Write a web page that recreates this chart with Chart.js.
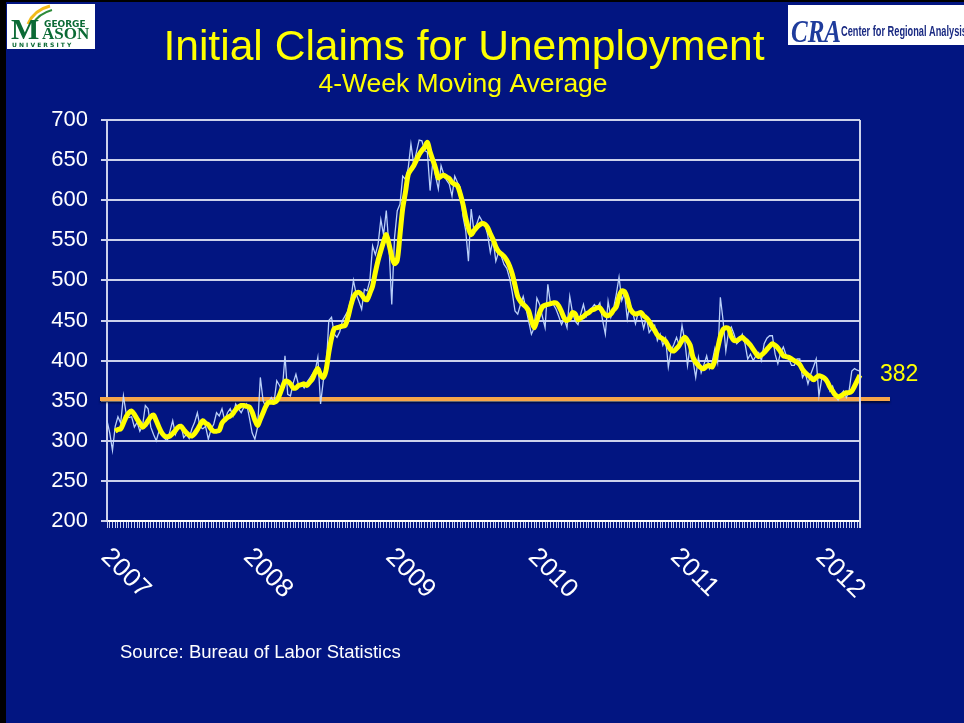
<!DOCTYPE html>
<html>
<head>
<meta charset="utf-8">
<title>Initial Claims for Unemployment</title>
<script src="https://cdn.jsdelivr.net/npm/chart.js@4.4.0/dist/chart.umd.min.js"></script>
<style>
    body { margin: 0; background: #021581; }
    #wrap { width: 964px; height: 723px; }
</style>
</head>
<body>
<div id="wrap"><canvas id="claimsChart" width="964" height="723"></canvas></div>
<script>
// weekly initial claims (thousands); first week ends Jan 6 2007
var weekly2007 = [325,310,288,318,330,322,356,334,329,330,317,323,312,319,344,340,317,308,300,312,308,303,300,312,325,308,317,320,304,308,303,315,323,335,317,315,318,302,314,321,335,331,340,325,335,340,331,346,340,335,342,346];
var weekly2008 = [329,310,302,317,379,350,342,348,354,348,375,369,362,406,358,356,372,383,369,371,366,373,378,383,387,404,346,375,387,450,454,433,429,436,450,456,462,475,500,483,474,464,489,487,500,543,532,545,576,557,587,541];
var weekly2009 = [470,553,587,595,630,626,640,670,645,660,675,674,662,660,612,649,630,614,643,632,625,620,605,630,622,616,580,562,524,589,562,570,580,574,570,557,535,551,524,535,530,520,515,503,485,462,458,470,480,465,449,433];
var weekly2010 = [441,478,470,455,441,495,470,470,464,455,445,452,441,480,460,449,445,458,470,455,462,465,470,466,472,450,433,474,454,465,483,504,475,485,452,471,460,446,460,455,440,454,435,440,444,425,433,419,428,392,412,420];
var weekly2011 = [429,419,444,425,394,419,400,379,404,385,395,406,390,398,415,398,479,450,412,437,442,433,421,425,433,421,402,408,400,406,410,400,421,428,431,431,408,396,410,417,407,402,394,394,402,402,379,385,371,383,392,402];
var weekly2012 = [356,377,380,375,362,368,356,351,358,362,354,362,387,390,388,387];

// 4-week moving average (the yellow line), also
var avg2007 = [null,null,null,312,314,315,322,330,335,337,333,327,322,317,320,325,330,332,325,317,310,306,305,306,309,313,317,318,314,310,307,306,309,314,320,325,322,320,315,312,312,313,322,326,329,331,334,339,342,344,344,343];
var avg2008 = [342,336,326,319,327,335,343,348,348,348,350,357,366,374,374,371,366,366,369,370,371,369,373,377,385,390,382,379,388,410,428,440,441,442,443,444,454,468,479,484,485,482,477,476,484,493,510,525,537,548,557,545];
var avg2009 = [530,521,525,557,590,610,632,638,643,650,657,662,666,672,660,650,640,628,630,631,629,627,622,620,618,608,595,578,565,557,562,566,569,571,570,566,558,551,542,536,533,530,525,518,508,494,480,474,470,467,462,450];
var avg2010 = [441,450,460,467,469,470,471,472,472,468,461,453,450,453,460,458,451,453,455,458,460,463,464,466,466,461,457,456,458,463,467,480,487,486,478,465,460,458,459,460,456,453,449,443,438,432,429,427,424,418,413,412];
var avg2011 = [415,419,425,429,425,419,404,398,394,391,390,393,394,392,400,415,430,439,441,440,430,425,425,427,429,426,423,419,414,409,405,407,410,414,418,421,419,416,411,406,405,404,402,400,398,395,389,385,382,379,376,379];
var avg2012 = [381,380,378,374,367,362,357,355,356,358,360,360,362,368,375,382];

var years = ['2007', '2008', '2009', '2010', '2011', '2012'];
var firstWeek = '2007-01-06';
var baseline = 352;   // orange reference line

var weeklyClaims = [].concat(weekly2007, weekly2008, weekly2009, weekly2010, weekly2011, weekly2012);
var movingAvg = [].concat(avg2007, avg2008, avg2009, avg2010, avg2011, avg2012);

var weeks = [];
var d = new Date(firstWeek + 'T00:00:00Z');
for (var i = 0; i < weeklyClaims.length; i++) {
    weeks.push(d.toISOString().slice(0, 10));
    d.setUTCDate(d.getUTCDate() + 7);
}

var NAVY = '#021581';
var GRID = 'rgba(215,219,240,0.95)';

var slideDecor = {
    id: 'slideDecor',
    beforeDraw: function (chart) {
        var ctx = chart.ctx;
        ctx.save();
        ctx.fillStyle = NAVY;
        ctx.fillRect(0, 0, chart.width, chart.height);
        ctx.restore();
    },
    beforeDatasetsDraw: function (chart) {
        var ctx = chart.ctx;
        var y = chart.scales.y.getPixelForValue(baseline);
        ctx.save();
        ctx.shadowColor = 'rgba(0,0,0,0.55)';
        ctx.shadowOffsetY = 2;
        ctx.shadowBlur = 2;
        ctx.strokeStyle = '#f6a64a';
        ctx.lineWidth = 4;
        ctx.beginPath();
        ctx.moveTo(chart.chartArea.left - 7, y);
        ctx.lineTo(chart.chartArea.right + 30, y);
        ctx.stroke();
        ctx.restore();
    },
    afterDraw: function (chart) {
        var ctx = chart.ctx;
        var area = chart.chartArea;
        var xs = chart.scales.x;
        var ys = chart.scales.y;
        ctx.save();

        // right edge of plot
        ctx.strokeStyle = GRID;
        ctx.lineWidth = 2;
        ctx.beginPath();
        ctx.moveTo(area.right, area.top);
        ctx.lineTo(area.right, area.bottom + 7);
        ctx.stroke();

        // titles
        ctx.fillStyle = '#ffff00';
        ctx.textAlign = 'center';
        ctx.textBaseline = 'alphabetic';
        ctx.font = '42.6px "Liberation Sans", Arial, sans-serif';
        ctx.fillText('Initial Claims for Unemployment', 464, 60);
        ctx.font = '26.5px "Liberation Sans", Arial, sans-serif';
        ctx.fillText('4-Week Moving Average', 463, 92);

        // last value label
        var last = movingAvg[movingAvg.length - 1];
        ctx.textAlign = 'left';
        ctx.textBaseline = 'middle';
        ctx.font = '23px "Liberation Sans", Arial, sans-serif';
        ctx.fillText(String(last), area.right + 20, ys.getPixelForValue(last));

        // year labels, rotated down-right
        ctx.fillStyle = '#ffffff';
        ctx.font = '26px "Liberation Sans", Arial, sans-serif';
        ctx.textBaseline = 'alphabetic';
        years.forEach(function (yr) {
            var idx = weeks.findIndex(function (w) { return w.slice(0, 4) === yr; });
            if (idx < 0) return;
            var x = xs.getPixelForValue(idx);
            ctx.save();
            ctx.translate(x - 7, area.bottom + 37);
            ctx.rotate(Math.PI / 4);
            ctx.fillText(yr, 0, 0);
            ctx.restore();
        });

        // source note
        ctx.font = '18.5px "Liberation Sans", Arial, sans-serif';
        ctx.fillText('Source: Bureau of Labor Statistics', 120, 658);

        // George Mason logo
        ctx.fillStyle = '#ffffff';
        ctx.fillRect(7, 4, 88, 45);
        ctx.strokeStyle = '#f2bb1a';
        ctx.lineWidth = 3;
        ctx.beginPath();
        ctx.moveTo(28, 24);
        ctx.quadraticCurveTo(34, 10, 50, 6);
        ctx.stroke();
        ctx.strokeStyle = '#2e8b3a';
        ctx.lineWidth = 2;
        ctx.beginPath();
        ctx.moveTo(33, 24);
        ctx.quadraticCurveTo(38, 14, 52, 10);
        ctx.stroke();
        ctx.fillStyle = '#0b6a35';
        ctx.font = 'bold 30px "Liberation Serif", serif';
        ctx.fillText('M', 11, 39);
        ctx.font = 'bold 17px "Liberation Serif", serif';
        ctx.fillText('ASON', 42, 39);
        ctx.font = 'bold 9px "DejaVu Sans", sans-serif';
        ctx.fillText('GEORGE', 44, 27, 46);
        ctx.font = 'bold 6px "DejaVu Sans", sans-serif';
        ctx.fillText('U N I V E R S I T Y', 12, 47, 78);

        // Center for Regional Analysis logo
        ctx.fillStyle = '#ffffff';
        ctx.fillRect(788, 5, 176, 40);
        ctx.fillStyle = '#1f3c9c';
        ctx.font = 'italic bold 32px "Liberation Serif", serif';
        ctx.fillText('CRA', 791, 42, 50);
        ctx.fillStyle = '#1a2a82';
        ctx.font = 'bold 15px "Liberation Sans Narrow", "Liberation Sans", sans-serif';
        ctx.fillText('Center for Regional Analysis', 841, 36, 126);

        // slide frame
        ctx.fillStyle = '#000000';
        ctx.fillRect(0, 0, 6, chart.height);
        ctx.fillRect(0, 0, chart.width, 2);
        ctx.restore();
    }
};

var ctx = document.getElementById('claimsChart').getContext('2d');
var chart = new Chart(ctx, {
    type: 'line',
    data: {
        labels: weeks,
        datasets: [{
            label: '4-Week Moving Average',
            data: movingAvg,
            borderColor: '#ffff00',
            borderWidth: 5,
            pointRadius: 0,
            tension: 0.3,
            spanGaps: false
        }, {
            label: 'Weekly',
            data: weeklyClaims,
            borderColor: 'rgba(196,218,255,0.95)',
            borderWidth: 1.3,
            pointRadius: 0,
            tension: 0
        }]
    },
    options: {
        responsive: false,
        animation: false,
        layout: { padding: { top: 120, right: 104, left: 0, bottom: 0 } },
        plugins: {
            legend: { display: false },
            tooltip: { enabled: false }
        },
        scales: {
            x: {
                type: 'category',
                offset: false,
                afterFit: function (scale) { scale.height = 202; },
                grid: {
                    drawOnChartArea: false,
                    drawTicks: true,
                    tickLength: 7,
                    color: 'rgba(220,226,250,0.9)',
                    lineWidth: 1
                },
                border: { display: true, color: '#ffffff', width: 2 },
                ticks: {
                    autoSkip: false,
                    maxRotation: 0,
                    callback: function () { return ''; }
                }
            },
            y: {
                min: 200,
                max: 700,
                afterFit: function (scale) { scale.width = 107; },
                grid: {
                    color: GRID,
                    lineWidth: 2,
                    tickLength: 6
                },
                border: { display: true, color: GRID, width: 2 },
                ticks: {
                    stepSize: 50,
                    color: '#ffffff',
                    padding: 13,
                    font: { family: '"Liberation Sans", Arial, sans-serif', size: 22 }
                }
            }
        }
    },
    plugins: [slideDecor]
});
</script>
</body>
</html>
